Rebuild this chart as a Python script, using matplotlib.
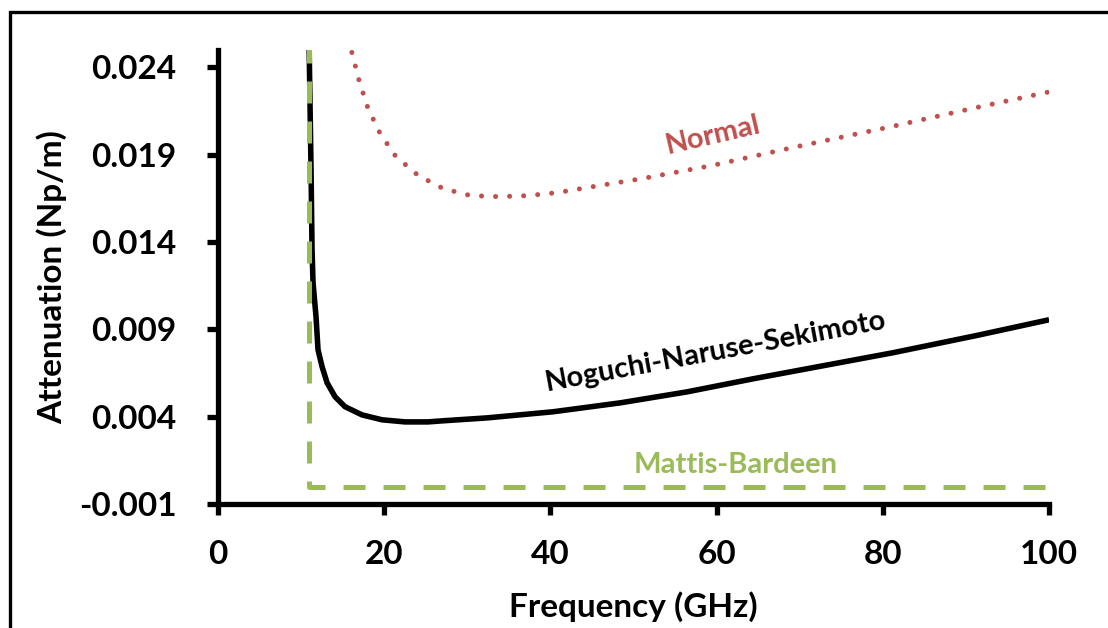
import matplotlib.pyplot as plt
from matplotlib.patches import Rectangle

plt.rcParams['font.family'] = ['Lato', 'DejaVu Sans']
plt.rcParams['font.weight'] = 'bold'
plt.rcParams['axes.labelweight'] = 'bold'

# Curvas (frecuencia en GHz, atenuación en Np/m)
f_normal = [16.1, 17.0, 18.05, 19.5, 21.4, 24.1, 27.1, 30.4, 33.9, 37.3, 40.8,
            45.8, 51.1, 59.4, 69.7, 81.1, 91.3, 100.0]
a_normal = [0.02486, 0.02320, 0.02165, 0.02022, 0.01890, 0.01781, 0.01706,
            0.01666, 0.01660, 0.01666, 0.01683, 0.01723, 0.01764, 0.01838,
            0.01947, 0.02062, 0.02171, 0.02260]

f_nns = [10.95, 11.19, 11.31, 11.43, 11.79, 12.03, 12.52, 13.12, 14.08, 15.28,
         17.33, 19.74, 22.5, 25.27, 26.96, 32.37, 40.31, 48.38, 56.44, 64.4,
         81.2, 91.3, 100.0]
a_nns = [0.0255, 0.01815, 0.01356, 0.01167, 0.00972, 0.00783, 0.00686,
         0.00594, 0.00514, 0.00457, 0.00410, 0.00382, 0.00370, 0.00370,
         0.00376, 0.00393, 0.00428, 0.00479, 0.00542, 0.00617, 0.00766,
         0.00865, 0.00955]

f_mb = [10.9, 10.9, 100.0]
a_mb = [0.0255, 0.0, 0.0]

xticks = [0, 20, 40, 60, 80, 100]
yticks = [-0.001, 0.004, 0.009, 0.014, 0.019, 0.024]

rojo = '#C0504D'
verde = '#9BBB59'

fig = plt.figure(figsize=(11.08, 6.28), dpi=100)
ax = fig.add_axes([0.1968, 0.1975, 0.75, 0.7229])

ax.plot(f_mb, a_mb, color=verde, lw=3.6, dashes=(4.4, 3.6), zorder=3)
ax.plot(f_nns, a_nns, color='black', lw=4.0, zorder=2, solid_capstyle='butt',
        solid_joinstyle='round')
ax.plot(f_normal, a_normal, color=rojo, lw=3.6, linestyle=(0, (0.01, 2.8)),
        dash_capstyle='round')

ax.text(59.6, 0.0201, 'Normal', color=rojo, fontsize=21, fontweight='bold',
        rotation=13, ha='center', va='center')
ax.text(59.9, 0.0077, 'Noguchi-Naruse-Sekimoto', color='black', fontsize=21,
        fontweight='bold', rotation=10.5, ha='center', va='center')
ax.text(62.3, 0.00124, 'Mattis-Bardeen', color=verde, fontsize=21,
        fontweight='bold', ha='center', va='center')

ax.set_xlim(0, 100)
ax.set_ylim(-0.001, 0.025)
ax.set_xticks(xticks)
ax.set_yticks(yticks)
ax.set_yticklabels([f'{v:.3f}' for v in yticks])
ax.tick_params(direction='out', length=8, width=3.8, labelsize=24)
ax.tick_params(axis='x', pad=18)
ax.tick_params(axis='y', pad=22)

for s in ['top', 'right']:
    ax.spines[s].set_visible(False)
for s in ['left', 'bottom']:
    ax.spines[s].set_linewidth(3.8)

ax.set_xlabel('Frequency (GHz)', fontsize=24, labelpad=16)
ax.set_ylabel('Attenuation (Np/m)', fontsize=24, labelpad=8)

# marco negro alrededor de la figura
fig.patches.append(Rectangle((10 / 1108, -0.2), 1.2, 1.2 - 12 / 628,
                             transform=fig.transFigure, fill=False,
                             edgecolor='black', lw=2.4, figure=fig))

fig.savefig('out.png', dpi=100)
